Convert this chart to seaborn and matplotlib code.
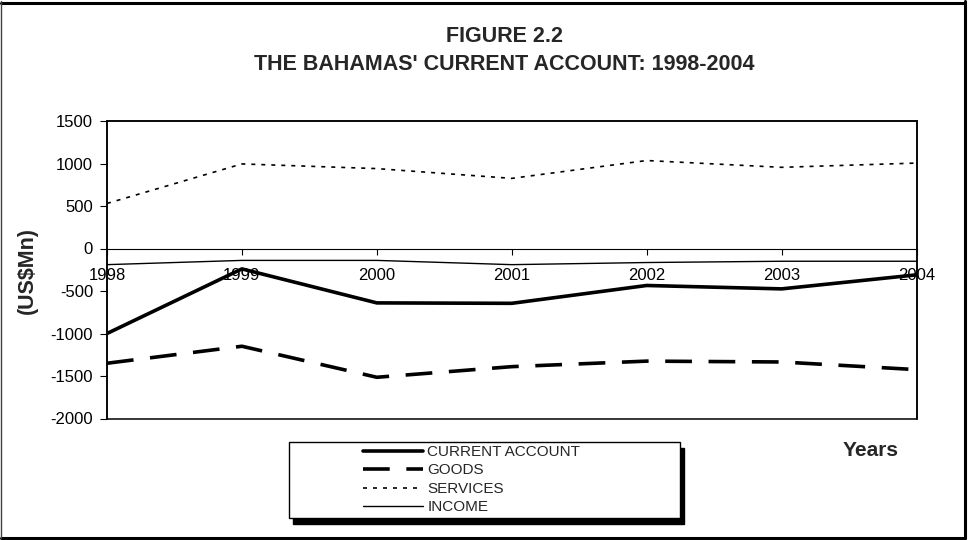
import matplotlib
matplotlib.use("Agg")
import matplotlib.pyplot as plt
from matplotlib.lines import Line2D
from matplotlib.patches import Rectangle
import seaborn as sns
import pandas as pd

# Balance of payments, current account components (US$ millions)
years = [1998, 1999, 2000, 2001, 2002, 2003, 2004]
current_account = [-1000, -240, -640, -645, -435, -475, -310]
goods = [-1350, -1150, -1515, -1390, -1325, -1335, -1425]
services = [530, 995, 940, 825, 1035, 955, 1005]
income = [-190, -140, -140, -190, -165, -150, -150]

series_names = ["CURRENT ACCOUNT", "GOODS", "SERVICES", "INCOME"]
y_ticks = [-2000, -1500, -1000, -500, 0, 500, 1000, 1500]

sns.set_style("ticks")
plt.rcParams["font.family"] = ["Liberation Sans", "DejaVu Sans"]
plt.rcParams["axes.edgecolor"] = "black"
plt.rcParams["xtick.color"] = "black"
plt.rcParams["ytick.color"] = "black"

W, H = 969, 540
fig = plt.figure(figsize=(W / 100, H / 100), dpi=100)
fig.patch.set_facecolor("white")


def fx(px):
    return px / W


def fy(py):
    return 1 - py / H


ax = fig.add_axes([fx(107), fy(418.5), fx(916.5) - fx(107), fy(121) - fy(418.5)])

df = pd.DataFrame({
    "year": years * 4,
    "value": current_account + goods + services + income,
    "series": sum([[n] * len(years) for n in series_names], []),
})

styles = {
    "CURRENT ACCOUNT": dict(lw=2.6, linestyle="-"),
    "GOODS": dict(lw=2.6, linestyle=(0, (7.4, 4.6))),
    "SERVICES": dict(lw=1.2, linestyle=(0, (2.4, 3.6))),
    "INCOME": dict(lw=1.0, linestyle="-"),
}

handles = []
for name in series_names:
    sub = df[df["series"] == name]
    sns.lineplot(data=sub, x="year", y="value", ax=ax, color="black",
                 label=name, legend=False, **styles[name])
    handles.append(ax.lines[-1])

ax.set_xlim(years[0], years[-1])
ax.set_ylim(-2000, 1500)
ax.set_yticks(y_ticks)
ax.set_yticklabels([str(v) for v in y_ticks])
ax.set_xticks(years)
ax.set_xticklabels([str(y) for y in years])
ax.set_xlabel("")
ax.set_ylabel("")

# x axis crosses at zero; the plot box is drawn separately
ax.spines["bottom"].set_position(("data", 0))
ax.spines["bottom"].set_linewidth(0.8)
for s in ["left", "right", "top"]:
    ax.spines[s].set_linewidth(1.1)
ax.spines["right"].set_visible(True)
ax.spines["top"].set_visible(True)
ax.add_patch(Rectangle((0, 0), 1, 1, transform=ax.transAxes, fill=False,
                       lw=1.1, edgecolor="black", zorder=5, clip_on=False))

ax.tick_params(axis="y", direction="out", length=5, width=0.8, pad=5, labelsize=12)
ax.tick_params(axis="x", direction="out", length=4, width=0.8, pad=10, labelsize=12)
for lbl in ax.get_xticklabels():
    lbl.set_zorder(1)

# Titles and axis captions
fig.text(fx(504), fy(36), "FIGURE 2.2", ha="center", va="center",
         fontsize=15.5, fontweight="bold")
fig.text(fx(504), fy(65), "THE BAHAMAS' CURRENT ACCOUNT: 1998-2004", ha="center",
         va="center", fontsize=15.5, fontweight="bold")
fig.text(fx(27), fy(270), "(US$Mn)", ha="center", va="center", rotation=90,
         fontsize=15.5, fontweight="bold")
fig.text(fx(871), fy(451), "Years", ha="center", va="center",
         fontsize=15, fontweight="bold")

# Legend box with drop shadow
bx0, by0, bx1, by1 = 289, 442, 680, 518
fig.patches.append(Rectangle((fx(bx0 + 4), fy(by1 + 6)), fx(bx1) - fx(bx0),
                             fy(by0) - fy(by1), transform=fig.transFigure,
                             facecolor="black", edgecolor="black", zorder=1))
fig.patches.append(Rectangle((fx(bx0), fy(by1)), fx(bx1) - fx(bx0),
                             fy(by0) - fy(by1), transform=fig.transFigure,
                             facecolor="white", edgecolor="black", lw=1.0, zorder=2))

leg = fig.legend(handles, series_names, loc="upper left",
                 bbox_to_anchor=(fx(363), fy(445)), bbox_transform=fig.transFigure,
                 frameon=False, fontsize=11, handlelength=3.9, handletextpad=0.3,
                 labelspacing=0.29, borderpad=0, borderaxespad=0, handleheight=0.7)
leg.set_zorder(3)

# Outer chart border
fig.add_artist(Line2D([fx(0.5), fx(965)], [fy(2.5), fy(2.5)], color="black", lw=2.2,
                      transform=fig.transFigure))
fig.add_artist(Line2D([fx(964.5), fx(964.5)], [fy(1), fy(538)], color="black", lw=2.2,
                      transform=fig.transFigure))
fig.add_artist(Line2D([fx(0.5), fx(965)], [fy(537.5), fy(537.5)], color="black", lw=2.2,
                      transform=fig.transFigure))
fig.add_artist(Line2D([fx(1), fx(1)], [fy(1), fy(538)], color="#404040", lw=1.0,
                      transform=fig.transFigure))

fig.savefig("out.png", dpi=100, facecolor="white")
